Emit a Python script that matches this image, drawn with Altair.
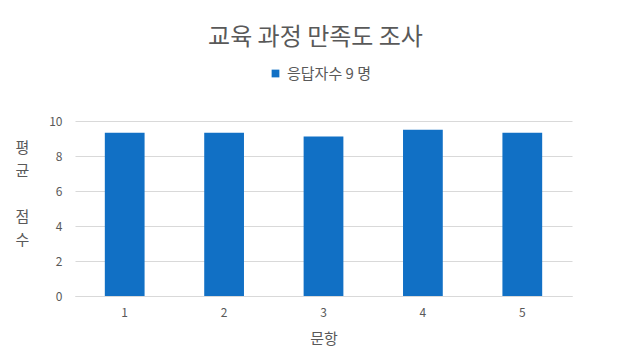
import altair as alt
import pandas as pd

questions = ["1", "2", "3", "4", "5"]
scores = [9.33, 9.33, 9.11, 9.5, 9.33]
series = "응답자수 9 명"

df = pd.DataFrame({"문항": questions, "점수": scores, "series": [series] * 5})

FONT = "Noto Sans CJK KR"
GRAY = "#595959"

chart = (
    alt.Chart(df)
    .mark_bar()
    .encode(
        x=alt.X(
            "문항:N",
            sort=questions,
            scale=alt.Scale(paddingInner=0.6, paddingOuter=0.3),
            axis=alt.Axis(
                title="문항",
                labelAngle=0,
                labelFontSize=12,
                labelColor=GRAY,
                labelPadding=11,
                ticks=False,
                domainColor="#D9D9D9",
                titleFontSize=15,
                titleFontWeight="normal",
                titleColor=GRAY,
                titlePadding=13,
            ),
        ),
        y=alt.Y(
            "점수:Q",
            scale=alt.Scale(domain=[0, 10]),
            axis=alt.Axis(
                values=[0, 2, 4, 6, 8, 10],
                title=["평", "균", "\u200b", "점", "수"],
                titleAngle=0,
                titleFontSize=15,
                titleFontWeight="normal",
                titleColor=GRAY,
                titleLineHeight=23,
                titleX=-53,
                titleY=19,
                titleAlign="center",
                titleBaseline="top",
                labelFontSize=12,
                labelColor=GRAY,
                labelPadding=13,
                ticks=False,
                domain=False,
                gridColor="#D9D9D9",
            ),
        ),
        fill=alt.Fill(
            "series:N",
            scale=alt.Scale(range=["#1170C5"]),
            legend=alt.Legend(
                title=None,
                orient="none",
                legendX=193,
                legendY=-55,
                symbolType="square",
                symbolSize=60,
                labelFontSize=15,
                labelColor=GRAY,
                labelFont=FONT,
            ),
        ),
    )
    .properties(
        width=497,
        height=175,
        padding={"left": 67, "top": 113, "right": 52, "bottom": 60},
        autosize=alt.AutoSizeParams(type="none"),
        title=alt.TitleParams(
            "교육 과정 만족도 조사",
            fontSize=24,
            fontWeight="normal",
            color=GRAY,
            font=FONT,
            anchor="middle",
            dx=-8,
            offset=16,
        ),
    )
    .configure(font=FONT)
    .configure_view(stroke=None)
)

chart.save("out.html", embed_options={"renderer": "svg", "actions": False})
